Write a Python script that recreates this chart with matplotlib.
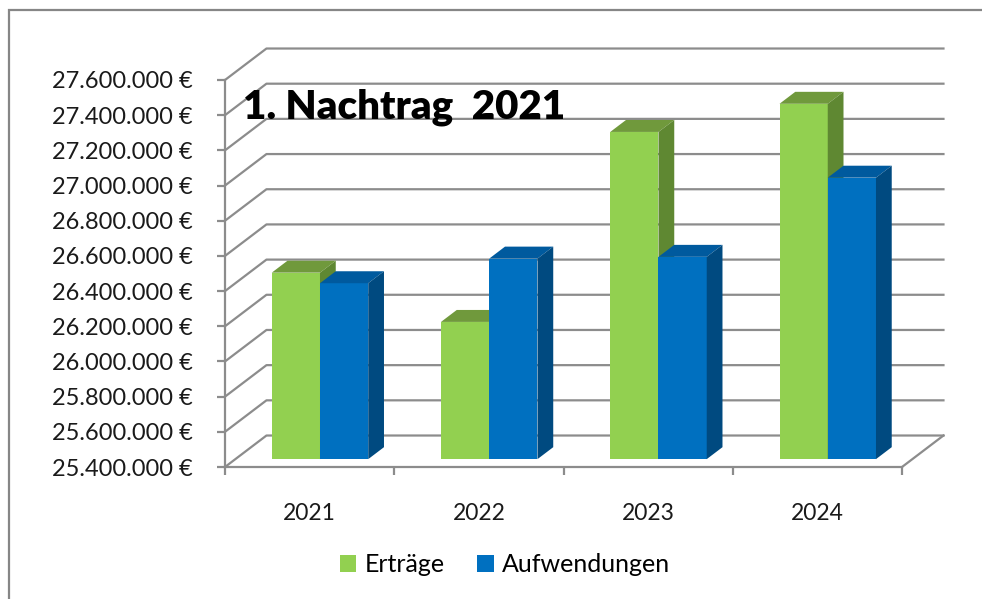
import matplotlib
matplotlib.use("Agg")
import matplotlib.pyplot as plt
from matplotlib.patches import Polygon, Patch, Rectangle
from matplotlib.ticker import FuncFormatter

plt.rcParams['font.family'] = ['Lato', 'DejaVu Sans']

# data
years = ['2021', '2022', '2023', '2024']
ertraege = [26.46e6, 26.18e6, 27.26e6, 27.42e6]
aufwendungen = [26.40e6, 26.54e6, 26.55e6, 27.00e6]
series_names = ['Erträge', 'Aufwendungen']

# colours: front, top, side
green = ('#92D050', '#70993C', '#5F8832')
blue = ('#0070C0', '#005A9E', '#004A80')
grid_color = '#8C8C8C'

YMIN, YMAX, STEP = 25.4e6, 27.6e6, 200000
DX, DY = 0.245, 179000      # depth of the walls (x in categories, y in value)
FRONT, DEPTH = 0.25, 0.38   # bar front position / bar depth as fraction of wall depth
GAP, WIDTH = 0.215, 0.285

fig = plt.figure(figsize=(9.82, 5.99), dpi=100)
ax = fig.add_axes([225/982, 132/599, 677/982, 387/599])
ax.set_xlim(0, len(years))
ax.set_ylim(YMIN, YMAX)

yticks = [YMIN + k*STEP for k in range(int(round((YMAX - YMIN)/STEP)) + 1)]

# side wall + back wall gridlines
for t in yticks:
    ax.plot([0, DX, len(years) + DX], [t, t + DY, t + DY], color=grid_color,
            lw=1.6, clip_on=False, zorder=1)
# right floor edge
ax.plot([len(years), len(years) + DX], [YMIN, YMIN + DY], color=grid_color,
        lw=1.6, clip_on=False, zorder=1)

# 3d-ish bars
for i in range(len(years)):
    for j, (vals, cols) in enumerate([(ertraege, green), (aufwendungen, blue)]):
        x0 = i + GAP + j*WIDTH + FRONT*DX
        y0 = YMIN + FRONT*DY
        top = vals[i] + FRONT*DY
        sdx, sdy = DEPTH*DX, DEPTH*DY
        z = 3 + j
        ax.bar(x0, vals[i] - YMIN, width=WIDTH, bottom=y0, align='edge',
               color=cols[0], zorder=z, clip_on=False)
        ax.add_patch(Polygon([(x0, top), (x0 + WIDTH, top),
                              (x0 + WIDTH + sdx, top + sdy), (x0 + sdx, top + sdy)],
                             closed=True, facecolor=cols[1], edgecolor='none',
                             zorder=z, clip_on=False))
        ax.add_patch(Polygon([(x0 + WIDTH, y0), (x0 + WIDTH, top),
                              (x0 + WIDTH + sdx, top + sdy), (x0 + WIDTH + sdx, y0 + sdy)],
                             closed=True, facecolor=cols[2], edgecolor='none',
                             zorder=z, clip_on=False))

# axes styling
for s in ['top', 'right']:
    ax.spines[s].set_visible(False)
for s in ['left', 'bottom']:
    ax.spines[s].set_color(grid_color)
    ax.spines[s].set_linewidth(1.6)
    ax.spines[s].set_zorder(2)

def euro(v, pos):
    return '{:,.0f} €'.format(v).replace(',', '.')

ax.set_yticks(yticks)
ax.yaxis.set_major_formatter(FuncFormatter(euro))
ax.tick_params(axis='y', length=6, width=1.6, color=grid_color, pad=17,
               labelsize=17, labelcolor='#1a1a1a')

ax.set_xticks([i + 0.5 for i in range(len(years))])
ax.set_xticklabels(years)
ax.set_xticks(range(len(years) + 1), minor=True)
ax.tick_params(axis='x', which='major', length=0, pad=26, labelsize=16.5,
               labelcolor='#1a1a1a')
ax.tick_params(axis='x', which='minor', length=6, width=1.6, color=grid_color)

fig.text(243/982, 1 - 119/599, '1. Nachtrag  2021', fontsize=29, fontweight='heavy',
         va='baseline', ha='left')

handles = [Patch(facecolor=green[0]), Patch(facecolor=blue[0])]
fig.legend(handles, series_names, loc='center', bbox_to_anchor=(505/982, 1 - 565/599),
           ncol=2, frameon=False, fontsize=18, handlelength=0.65, handleheight=0.65,
           handletextpad=0.35, columnspacing=1.3)

# outer chart frame
fig.add_artist(Rectangle((9/982, -0.05), 1.0, 1.05 - 10/599, transform=fig.transFigure,
                         fill=False, edgecolor='#868686', linewidth=1.6))

fig.savefig('out.png', dpi=100)
